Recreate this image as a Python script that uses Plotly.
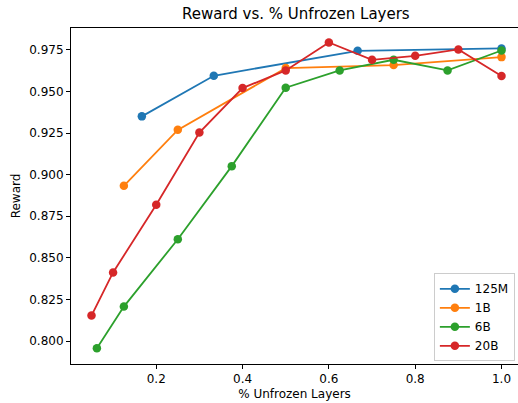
import plotly.graph_objects as go

# Data
x_125m = [1/6, 2/6, 4/6, 1.0]
y_125m = [0.935, 0.9594, 0.9744, 0.9758]

x_1b = [0.125, 0.25, 0.5, 0.75, 1.0]
y_1b = [0.8933, 0.9269, 0.9640, 0.9658, 0.9706]

x_6b = [1/16, 2/16, 4/16, 6/16, 8/16, 10/16, 12/16, 14/16, 1.0]
y_6b = [0.7957, 0.8207, 0.8612, 0.9051, 0.9522, 0.9626, 0.9690, 0.9626, 0.9746]

x_20b = [0.05, 0.1, 0.2, 0.3, 0.4, 0.5, 0.6, 0.7, 0.8, 0.9, 1.0]
y_20b = [0.8153, 0.8412, 0.8819, 0.9253, 0.9520, 0.9626, 0.9794, 0.9690, 0.9714, 0.9752, 0.9592]

series_names = ["125M", "1B", "6B", "20B"]
series_colors = ["#1f77b4", "#ff7f0e", "#2ca02c", "#d62728"]

x_ticks = [0.2, 0.4, 0.6, 0.8, 1.0]
y_ticks = [0.800, 0.825, 0.850, 0.875, 0.900, 0.925, 0.950, 0.975]

FONT = "DejaVu Sans"

fig = go.Figure()
for name, color, xs, ys in zip(series_names, series_colors,
                               [x_125m, x_1b, x_6b, x_20b],
                               [y_125m, y_1b, y_6b, y_20b]):
    fig.add_trace(go.Scatter(
        x=xs, y=ys, name=name, mode="lines+markers",
        line=dict(color=color, width=1.8),
        marker=dict(color=color, size=8.5),
    ))

fig.update_layout(
    width=518, height=403,
    margin=dict(l=71, r=0, t=28, b=39),
    paper_bgcolor="white", plot_bgcolor="white",
    font=dict(family=FONT, size=12, color="black"),
    title=dict(text="Reward vs. % Unfrozen Layers", xref="paper", x=0.503, xanchor="center",
               yref="container", y=0.965, yanchor="middle", font=dict(size=15, family=FONT)),
    showlegend=True,
    legend=dict(x=0.993, y=0.008, xanchor="right", yanchor="bottom",
                bgcolor="rgba(255,255,255,0.8)", bordercolor="#cccccc", borderwidth=1,
                font=dict(size=12, family=FONT), tracegroupgap=0, itemwidth=30),
)

fig.update_xaxes(
    range=[0.0025, 0.0025 + 447/431.6],
    tickvals=x_ticks, tickformat=".1f",
    showgrid=False, zeroline=False,
    showline=True, linecolor="black", linewidth=1, mirror=True,
    ticks="outside", ticklen=4, tickcolor="black", tickwidth=1,
    title=dict(text="% Unfrozen Layers", standoff=4, font=dict(size=12, family=FONT)),
)
fig.update_yaxes(
    range=[0.7862, 0.9881],
    tickvals=y_ticks, tickformat=".3f",
    showgrid=False, zeroline=False,
    showline=True, linecolor="black", linewidth=1, mirror=False,
    ticks="outside", ticklen=4, tickcolor="black", tickwidth=1,
    title=dict(text="Reward", standoff=6, font=dict(size=12, family=FONT)),
)

fig.write_html("out.html")
